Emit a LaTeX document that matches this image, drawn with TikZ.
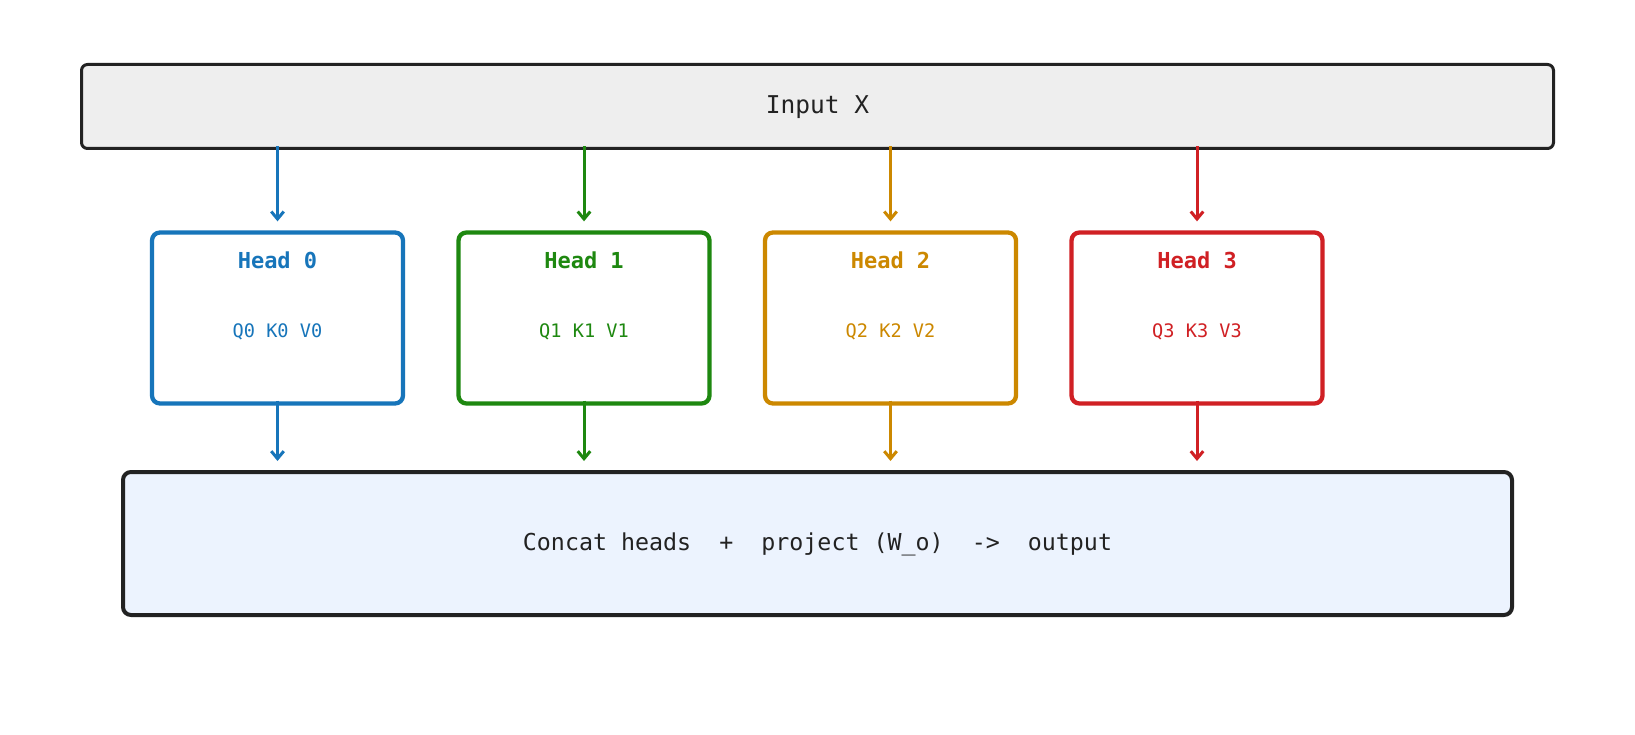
\documentclass[tikz,border=0pt]{standalone}
\usepackage{fontspec}
\setmonofont{DejaVu Sans Mono}
\usetikzlibrary{arrows.meta}
\definecolor{inkc}{RGB}{34,34,34}
\definecolor{inputfill}{RGB}{238,238,238}
\definecolor{concatfill}{RGB}{236,243,254}
\definecolor{hblue}{RGB}{23,117,186}
\definecolor{hgreen}{RGB}{30,136,16}
\definecolor{horange}{RGB}{204,136,0}
\definecolor{hred}{RGB}{208,32,36}
\begin{document}
\begin{tikzpicture}[x=1pt,y=-1pt,
  txt/.style={inner sep=0pt, text height=0.73em, text depth=0pt},
  bigbox/.style={draw=inkc, inner sep=0pt, txt},
  headbox/.style={draw=#1, line width=4.3pt, rounded corners=8pt, minimum width=251pt, minimum height=171pt, inner sep=0pt},
  headtitle/.style={txt, text=#1, font=\ttfamily\bfseries\fontsize{22}{26}\selectfont},
  headbody/.style={txt, text=#1, font=\ttfamily\fontsize{18.6}{22}\selectfont},
  arr/.style={draw=#1, line width=3pt, -{Straight Barb[length=7.5pt,width=12.5pt,line width=3pt]}}
]
\useasboundingbox (0,0) rectangle (1635,735);
\fill[white] (0,0) rectangle (1635,735);

\node[bigbox, fill=inputfill, line width=3pt, rounded corners=6pt,
      minimum width=1472pt, minimum height=84pt, text=inkc,
      font=\ttfamily\fontsize{24.5}{28}\selectfont] (input) at (817.5,106.5) {\raisebox{-3.5pt}{Input X}};

\node[bigbox, fill=concatfill, line width=4pt, rounded corners=8pt,
      minimum width=1389pt, minimum height=143pt, text=inkc,
      font=\ttfamily\fontsize{23.3}{27}\selectfont] (concat) at (817.5,543.5)
      {\raisebox{-3.5pt}{Concat heads\ \ +\ \ project (W\_o)\ \ ->\ \ output}};

\foreach \i/\c/\x in {0/hblue/277.5, 1/hgreen/584, 2/horange/890.5, 3/hred/1197}{
  \node[headbox=\c] (h\i) at (\x,318) {};
  \node[headtitle=\c] (h\i t) at (\x,264.5) {Head \i};
  \node[headbody=\c] (h\i b) at (\x,334) {Q\i\ K\i\ V\i};
  \draw[arr=\c, shorten >=9pt] ([yshift=3.5pt]input.south -| h\i.north) -- (h\i.north);
  \draw[arr=\c, shorten >=9pt] ([yshift=5pt]h\i.south) -- (concat.north -| h\i.south);
}
\end{tikzpicture}
\end{document}
